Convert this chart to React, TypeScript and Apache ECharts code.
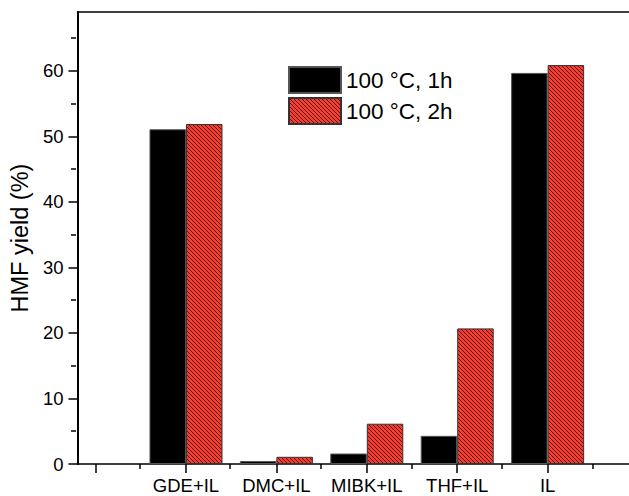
import React, { useEffect, useRef } from "react";
import * as echarts from "echarts";

const categories = ["", "GDE+IL", "DMC+IL", "MIBK+IL", "THF+IL", "IL"];
const seriesNames = ["100 °C, 1h", "100 °C, 2h"];
const yield1h = [null, 51.1, 0.45, 1.6, 4.3, 59.7];
const yield2h = [null, 51.9, 1.1, 6.15, 20.7, 60.9];
const yMajorTicks = [0, 10, 20, 30, 40, 50, 60];
const yMinorTicks = [5, 15, 25, 35, 45, 55, 65];
const xMajorTicks = [0, 1, 2, 3, 4, 5];
const xMinorTicks = [0.5, 1.5, 2.5, 3.5, 4.5, 5.5];
const xLabelTicks = [1, 2, 3, 4, 5];

const FONT = "Liberation Sans, Arial, sans-serif";

function makeHatch(): HTMLCanvasElement {
  const c = document.createElement("canvas");
  c.width = 8;
  c.height = 8;
  const ctx = c.getContext("2d")!;
  ctx.fillStyle = "#f53d31";
  ctx.fillRect(0, 0, 8, 8);
  ctx.strokeStyle = "#4a0c08";
  ctx.lineWidth = 0.9;
  ctx.beginPath();
  for (let k = -3; k <= 3; k++) {
    ctx.moveTo(4 * k - 2, -2);
    ctx.lineTo(4 * k + 10, 10);
  }
  ctx.stroke();
  return c;
}

const toData = (arr: (number | null)[]) =>
  arr
    .map((v, i) => (v == null ? null : [i, v]))
    .filter((d) => d !== null);

const ls = (w = 1.5) => ({ color: "#000", width: w });

export default function App() {
  const ref = useRef<HTMLDivElement>(null);
  useEffect(() => {
    if (!ref.current) return;
    const chart = echarts.init(ref.current, undefined, { renderer: "svg" });
    const gridRect = () => ({ left: 76, top: 12, right: 0, bottom: 32, containLabel: false });
    const xMin = -0.2;
    const xMax = 5.9;
    const yMin = 0;
    const yMax = 69;
    chart.setOption({
      animation: false,
      backgroundColor: "#fff",
      grid: [gridRect(), gridRect()],
      legend: {
        orient: "vertical",
        left: 283,
        top: 61,
        itemWidth: 52,
        itemHeight: 26,
        itemGap: 3,
        icon: "rect",
        textStyle: { fontSize: 22.5, color: "#000", fontFamily: FONT },
        data: seriesNames,
      },
      xAxis: [
        {
          type: "value",
          gridIndex: 0,
          position: "bottom",
          min: xMin,
          max: xMax,
          axisLine: { show: true, onZero: false, lineStyle: ls() },
          splitLine: { show: false },
          axisTick: {
            show: true,
            customValues: xMajorTicks,
            length: 9,
            lineStyle: ls(),
          },
          axisLabel: {
            customValues: xLabelTicks,
            formatter: (v: number) => categories[Math.round(v)] ?? "",
            fontSize: 18.5,
            color: "#000",
            fontFamily: FONT,
            margin: 12,
          },
        },
        {
          type: "value",
          gridIndex: 0,
          position: "top",
          min: xMin,
          max: xMax,
          axisLine: { show: true, onZero: false, lineStyle: ls() },
          splitLine: { show: false },
          axisTick: { show: false },
          axisLabel: { show: false },
        },
        {
          type: "value",
          gridIndex: 1,
          position: "bottom",
          min: xMin,
          max: xMax,
          axisLine: { show: false, onZero: false },
          splitLine: { show: false },
          axisTick: {
            show: true,
            customValues: xMinorTicks,
            length: 5,
            lineStyle: ls(),
          },
          axisLabel: { show: false },
        },
      ],
      yAxis: [
        {
          type: "value",
          gridIndex: 0,
          position: "left",
          min: yMin,
          max: yMax,
          name: "HMF yield (%)",
          nameLocation: "middle",
          nameGap: 38,
          nameTextStyle: { fontSize: 23.5, color: "#000", fontFamily: FONT },
          axisLine: { show: true, onZero: false, lineStyle: ls(2) },
          splitLine: { show: false },
          axisTick: {
            show: true,
            customValues: yMajorTicks,
            length: 9,
            lineStyle: ls(),
          },
          axisLabel: {
            customValues: yMajorTicks,
            fontSize: 18.5,
            color: "#000",
            fontFamily: FONT,
            margin: 14,
          },
        },
        {
          type: "value",
          gridIndex: 1,
          position: "left",
          min: yMin,
          max: yMax,
          axisLine: { show: false, onZero: false },
          splitLine: { show: false },
          axisTick: {
            show: true,
            customValues: yMinorTicks,
            length: 5,
            lineStyle: ls(),
          },
          axisLabel: { show: false },
        },
      ],
      series: [
        {
          name: seriesNames[0],
          type: "bar",
          xAxisIndex: 0,
          yAxisIndex: 0,
          barWidth: 36.5,
          barGap: "0%",
          data: toData(yield1h),
          itemStyle: { color: "#000", borderColor: "#555", borderWidth: 1 },
        },
        {
          name: seriesNames[1],
          type: "bar",
          xAxisIndex: 0,
          yAxisIndex: 0,
          barWidth: 36.5,
          barGap: "0%",
          data: toData(yield2h),
          itemStyle: {
            color: { image: makeHatch(), repeat: "repeat" },
            borderColor: "#333",
            borderWidth: 1,
          },
        },
      ],
    });
    return () => chart.dispose();
  }, []);
  return (
    <div
      ref={ref}
      style={{ position: "fixed", left: 0, top: 0, width: 629, height: 496 }}
    />
  );
}
